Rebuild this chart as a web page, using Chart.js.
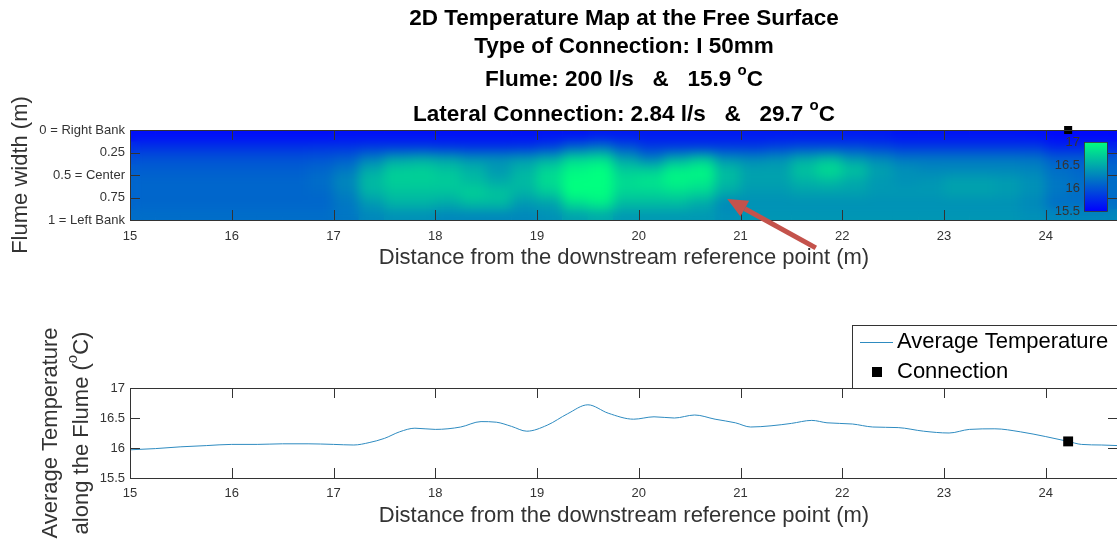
<!DOCTYPE html>
<html>
<head>
<meta charset="utf-8">
<script src="https://cdn.jsdelivr.net/npm/chart.js@4.4.1/dist/chart.umd.min.js"></script>
<style>
  html, body { margin: 0; padding: 0; background: #fff; overflow: hidden; }
  #wrap { position: relative; width: 1117px; height: 542px; overflow: hidden; }
  canvas { position: absolute; left: 0; }
  #mapCanvas { top: 0; }
  #avgCanvas { top: 290px; }
</style>
</head>
<body>
<div id="wrap">
  <canvas id="mapCanvas" width="1130" height="290"></canvas>
  <canvas id="avgCanvas" width="1130" height="252"></canvas>
</div>
<script>
// ---- text ----
const titleLines = [
  ["2D Temperature Map at the Free Surface"],
  ["Type of Connection: I 50mm"],
  ["Flume: 200 l/s   &   15.9 ", "^o", "C"],
  ["Lateral Connection: 2.84 l/s   &   29.7 ", "^o", "C"],
];
const distanceLabel = "Distance from the downstream reference point (m)";
const widthLabel = "Flume width (m)";
const avgLabelLines = [["Average Temperature"], ["along the Flume (", "^o", "C)"]];

// ---- axes ----
const X_MIN = 15, X_MAX = 24.71;
const widthTicks = [0, 0.25, 0.5, 0.75, 1];
const widthTickLabels = ["0 = Right Bank", "0.25", "0.5 = Center", "0.75", "1 = Left Bank"];
const CMIN = 15.5, CMAX = 17;
const colorbarTicks = [15.5, 16, 16.5, 17];

// ---- connection ----
const connectionX = 24.22;
const connectionT = 16.11;

// ---- surface map: cell centres along the flume, bands across it ----
const cellX = [15.125, 15.375, 15.625, 15.875, 16.125, 16.375, 16.625, 16.875,
  17.125, 17.375, 17.625, 17.875, 18.125, 18.375, 18.625, 18.875,
  19.125, 19.375, 19.625, 19.875, 20.125, 20.375, 20.625, 20.875,
  21.125, 21.375, 21.625, 21.875, 22.125, 22.375, 22.625, 22.875,
  23.125, 23.375, 23.625, 23.875, 24.125, 24.375, 24.625, 24.875];
const widthBands = [[0, 0.125], [0.125, 0.25], [0.25, 0.375], [0.375, 0.5],
  [0.5, 0.625], [0.625, 0.75], [0.75, 0.875], [0.875, 1]];

const tempW006 = [15.58, 15.58, 15.58, 15.58, 15.58, 15.58, 15.58, 15.58,
  15.60, 15.60, 15.60, 15.60, 15.60, 15.60, 15.60, 15.60,
  15.62, 15.62, 15.65, 15.65, 15.65, 15.65, 15.65, 15.65,
  15.65, 15.65, 15.65, 15.65, 15.65, 15.65, 15.62, 15.62,
  15.62, 15.62, 15.62, 15.60, 15.55, 15.55, 15.55, 15.55];
const tempW019 = [15.80, 15.80, 15.80, 15.80, 15.80, 15.80, 15.80, 15.82,
  15.82, 15.85, 15.85, 15.85, 15.82, 15.80, 15.80, 15.82,
  15.90, 16.10, 16.20, 16.00, 15.85, 15.85, 15.85, 15.85,
  15.85, 15.90, 15.95, 15.95, 15.95, 15.90, 15.85, 15.85,
  15.85, 15.85, 15.85, 15.85, 15.72, 15.72, 15.72, 15.72];
const tempW031 = [15.98, 15.98, 15.98, 15.98, 15.98, 15.98, 15.98, 16.00,
  16.05, 16.25, 16.45, 16.50, 16.45, 16.35, 16.35, 16.40,
  16.50, 16.75, 16.80, 16.45, 16.25, 16.50, 16.65, 16.35,
  16.30, 16.35, 16.50, 16.60, 16.40, 16.30, 16.20, 16.20,
  16.20, 16.20, 16.20, 16.18, 16.05, 16.05, 16.05, 16.05];
const tempW044 = [16.05, 16.05, 16.05, 16.05, 16.05, 16.05, 16.05, 16.10,
  16.20, 16.50, 16.70, 16.72, 16.65, 16.55, 16.40, 16.55,
  16.75, 16.95, 17.00, 16.70, 16.70, 16.90, 16.95, 16.60,
  16.45, 16.45, 16.65, 16.80, 16.65, 16.45, 16.35, 16.30,
  16.30, 16.30, 16.30, 16.28, 16.15, 16.10, 16.10, 16.10];
const tempW056 = [16.10, 16.10, 16.10, 16.10, 16.10, 16.10, 16.10, 16.15,
  16.30, 16.60, 16.72, 16.72, 16.70, 16.60, 16.50, 16.60,
  16.80, 17.00, 17.00, 16.80, 16.85, 16.95, 16.90, 16.60,
  16.45, 16.45, 16.55, 16.60, 16.50, 16.40, 16.35, 16.38,
  16.45, 16.45, 16.42, 16.35, 16.20, 16.15, 16.15, 16.15];
const tempW069 = [16.10, 16.10, 16.10, 16.10, 16.10, 16.10, 16.10, 16.12,
  16.25, 16.55, 16.65, 16.65, 16.65, 16.72, 16.65, 16.55,
  16.70, 17.00, 17.00, 16.75, 16.75, 16.80, 16.75, 16.50,
  16.40, 16.40, 16.45, 16.45, 16.45, 16.40, 16.40, 16.40,
  16.45, 16.45, 16.42, 16.35, 16.20, 16.15, 16.15, 16.15];
const tempW081 = [16.10, 16.10, 16.10, 16.10, 16.10, 16.10, 16.10, 16.10,
  16.20, 16.40, 16.55, 16.55, 16.50, 16.60, 16.60, 16.40,
  16.45, 16.80, 16.90, 16.60, 16.60, 16.60, 16.50, 16.30,
  16.35, 16.35, 16.35, 16.35, 16.35, 16.35, 16.35, 16.35,
  16.35, 16.35, 16.35, 16.30, 16.15, 16.15, 16.15, 16.15];
const tempW094 = [16.15, 16.15, 16.15, 16.15, 16.15, 16.15, 16.15, 16.15,
  16.20, 16.30, 16.35, 16.35, 16.30, 16.30, 16.30, 16.30,
  16.35, 16.45, 16.50, 16.40, 16.40, 16.40, 16.40, 16.35,
  16.38, 16.38, 16.38, 16.38, 16.38, 16.38, 16.38, 16.38,
  16.38, 16.38, 16.38, 16.35, 16.30, 16.30, 16.30, 16.30];
const tempRows = [tempW006, tempW019, tempW031, tempW044, tempW056, tempW069, tempW081, tempW094];

// ---- average temperature along the flume ----
const avgX = [15.0, 15.25, 15.5, 15.75, 16.0, 16.25, 16.5, 16.75, 17.0, 17.2,
  17.35, 17.5, 17.65, 17.8, 18.0, 18.25, 18.45, 18.6, 18.75, 18.9,
  19.1, 19.3, 19.5, 19.7, 19.95, 20.15, 20.35, 20.55, 20.75, 20.95,
  21.1, 21.3, 21.5, 21.7, 21.85, 22.1, 22.3, 22.55, 22.8, 23.05,
  23.25, 23.5, 23.75, 24.0, 24.22, 24.35, 24.55, 24.71];
const avgT = [15.97, 15.99, 16.02, 16.04, 16.06, 16.06, 16.07, 16.07, 16.06, 16.05,
  16.09, 16.16, 16.27, 16.33, 16.31, 16.35, 16.44, 16.43, 16.36, 16.28,
  16.38, 16.57, 16.72, 16.58, 16.48, 16.52, 16.50, 16.55, 16.48, 16.42,
  16.35, 16.37, 16.41, 16.46, 16.42, 16.40, 16.35, 16.34, 16.28, 16.25,
  16.31, 16.32, 16.27, 16.19, 16.11, 16.06, 16.05, 16.04];

const FONT = '"Liberation Sans", Arial, sans-serif';
const AXIS_COLOR = "#333333";
const LINE_COLOR = "#2e8bc0";

function winterAt(t) {
  t = Math.min(1, Math.max(0, t));
  return "rgb(0," + Math.round(255 * t) + "," + Math.round(255 * (1 - t / 2)) + ")";
}
function winter(temp) {
  return winterAt((temp - CMIN) / (CMAX - CMIN));
}

// text with "^x" segments raised as superscripts
function drawRich(ctx, segs, cx, cy, font, supFont, rise) {
  let total = 0;
  const parts = segs.map((s) => {
    const sup = s.startsWith("^");
    const text = sup ? s.slice(1) : s;
    ctx.font = sup ? supFont : font;
    const w = ctx.measureText(text).width;
    total += w;
    return { text, sup, w };
  });
  let x = cx - total / 2;
  ctx.textAlign = "left";
  ctx.textBaseline = "middle";
  parts.forEach((p) => {
    ctx.font = p.sup ? supFont : font;
    ctx.fillText(p.text, x, p.sup ? cy - rise : cy);
    x += p.w;
  });
}

const boxTicks = {
  id: "boxTicks",
  afterDraw(chart, args, opts) {
    const { ctx, chartArea: a, scales } = chart;
    const len = opts.len || 10;
    ctx.save();
    ctx.strokeStyle = AXIS_COLOR;
    ctx.lineWidth = 1;
    ctx.beginPath();
    scales.x.ticks.forEach((t) => {
      const px = Math.round(scales.x.getPixelForValue(t.value)) + 0.5;
      ctx.moveTo(px, a.bottom); ctx.lineTo(px, a.bottom - len);
      ctx.moveTo(px, a.top); ctx.lineTo(px, a.top + len);
    });
    scales.y.ticks.forEach((t) => {
      const py = Math.round(scales.y.getPixelForValue(t.value)) + 0.5;
      ctx.moveTo(a.left, py); ctx.lineTo(a.left + len, py);
      ctx.moveTo(a.right, py); ctx.lineTo(a.right - len, py);
    });
    ctx.stroke();
    ctx.strokeRect(Math.round(a.left) + 0.5, Math.round(a.top) + 0.5,
      Math.round(a.right - a.left), Math.round(a.bottom - a.top));
    ctx.restore();
  },
};

// soften the cell edges like an interpolated surface plot
const smoothCells = {
  id: "smoothCells",
  beforeDatasetDraw(chart, args, opts) {
    if (args.index !== 0) return;
    const { ctx, chartArea: a } = chart;
    const r = chart.currentDevicePixelRatio || 1;
    const x = Math.round(a.left * r), y = Math.round(a.top * r);
    const w = Math.round(a.right * r) - x, h = Math.round(a.bottom * r) - y;
    const off = document.createElement("canvas");
    off.width = w; off.height = h;
    off.getContext("2d").putImageData(ctx.getImageData(x, y, w, h), 0, 0);
    ctx.save();
    ctx.setTransform(1, 0, 0, 1, 0, 0);
    ctx.beginPath();
    ctx.rect(x, y, w, h);
    ctx.clip();
    ctx.filter = "blur(" + (opts.radius || 5) * r + "px)";
    ctx.drawImage(off, x, y);
    ctx.restore();
  },
};

const colorbar = {
  id: "colorbar",
  afterDraw(chart, args, o) {
    const { ctx } = chart;
    const g = ctx.createLinearGradient(0, o.bottom, 0, o.top);
    for (let k = 0; k <= 10; k++) g.addColorStop(k / 10, winterAt(k / 10));
    ctx.save();
    ctx.fillStyle = g;
    ctx.fillRect(o.left, o.top, o.width, o.bottom - o.top);
    ctx.strokeStyle = AXIS_COLOR;
    ctx.lineWidth = 0.8;
    ctx.strokeRect(o.left + 0.5, o.top + 0.5, o.width, o.bottom - o.top);
    ctx.fillStyle = AXIS_COLOR;
    ctx.font = "13px " + FONT;
    ctx.textAlign = "right";
    ctx.textBaseline = "middle";
    colorbarTicks.forEach((v) => {
      const py = o.bottom - ((v - CMIN) / (CMAX - CMIN)) * (o.bottom - o.top);
      ctx.fillText(String(v), o.left - 4, py);
    });
    ctx.restore();
  },
};

const arrow = {
  id: "arrow",
  afterDraw(chart, args, o) {
    const { ctx } = chart;
    const { x, y } = chart.scales;
    const x0 = x.getPixelForValue(o.from[0]), y0 = y.getPixelForValue(o.from[1]);
    const x1 = x.getPixelForValue(o.to[0]), y1 = y.getPixelForValue(o.to[1]);
    const ang = Math.atan2(y1 - y0, x1 - x0);
    const hl = 20, hw = 9;
    const bx = x1 - hl * Math.cos(ang), by = y1 - hl * Math.sin(ang);
    ctx.save();
    ctx.strokeStyle = o.color;
    ctx.fillStyle = o.color;
    ctx.lineWidth = 5;
    ctx.beginPath();
    ctx.moveTo(x0, y0);
    ctx.lineTo(bx, by);
    ctx.stroke();
    ctx.beginPath();
    ctx.moveTo(x1, y1);
    ctx.lineTo(bx + hw * Math.sin(ang), by - hw * Math.cos(ang));
    ctx.lineTo(bx - hw * Math.sin(ang), by + hw * Math.cos(ang));
    ctx.closePath();
    ctx.fill();
    ctx.restore();
  },
};

const mainTitle = {
  id: "mainTitle",
  afterDraw(chart, args, o) {
    const { ctx } = chart;
    ctx.save();
    ctx.fillStyle = "#000";
    titleLines.forEach((segs, i) => {
      drawRich(ctx, segs, o.x, o.ys[i], "bold 22.5px " + FONT, "bold 15px " + FONT, 9);
    });
    ctx.restore();
  },
};

const avgTitle = {
  id: "avgTitle",
  afterDraw(chart, args, o) {
    const { ctx, chartArea: a } = chart;
    const cy = (a.top + a.bottom) / 2;
    ctx.save();
    ctx.fillStyle = AXIS_COLOR;
    avgLabelLines.forEach((segs, i) => {
      ctx.save();
      ctx.translate(o.xs[i], cy);
      ctx.rotate(-Math.PI / 2);
      drawRich(ctx, segs, 0, 0, "22px " + FONT, "15px " + FONT, 9);
      ctx.restore();
    });
    ctx.restore();
  },
};

const boxLegend = {
  id: "boxLegend",
  afterDraw(chart, args, o) {
    const { ctx } = chart;
    const sets = chart.data.datasets;
    ctx.save();
    ctx.fillStyle = "#fff";
    ctx.fillRect(o.left, o.top, 400, o.height);
    ctx.strokeStyle = AXIS_COLOR;
    ctx.lineWidth = 1;
    ctx.strokeRect(o.left + 0.5, o.top + 0.5, 400, o.height);
    ctx.font = "22px " + FONT;
    ctx.textAlign = "left";
    ctx.textBaseline = "middle";
    o.order.forEach((idx, row) => {
      const ds = sets[idx];
      const cy = o.top + o.firstRow + row * o.rowGap;
      if (ds.showLine === false) {
        ctx.fillStyle = ds.backgroundColor;
        ctx.fillRect(o.left + 20, cy - 5, 10, 10);
      } else {
        ctx.strokeStyle = ds.borderColor;
        ctx.lineWidth = ds.borderWidth;
        ctx.beginPath();
        ctx.moveTo(o.left + 8, cy + 0.5);
        ctx.lineTo(o.left + 41, cy + 0.5);
        ctx.stroke();
      }
      ctx.fillStyle = "#000";
      ctx.fillText(ds.label, o.left + 45, cy);
    });
    ctx.restore();
  },
};

function tickFont() {
  return { family: FONT, size: 13 };
}

// ---------------- surface map ----------------
const mapSets = [{
  type: "scatter",
  label: "Connection",
  data: [{ x: connectionX, y: 0 }],
  pointStyle: "rect",
  pointRadius: 5.7,
  backgroundColor: "#000",
  borderColor: "#000",
  borderWidth: 0,
  clip: false,
}];
tempRows.forEach((row, r) => {
  mapSets.push({
    type: "bar",
    data: cellX.map((x) => ({ x, y: widthBands[r] })),
    backgroundColor: row.map(winter),
    borderWidth: 0,
    grouped: false,
    barPercentage: 1,
    categoryPercentage: 1,
  });
});

new Chart(document.getElementById("mapCanvas").getContext("2d"), {
  type: "bar",
  data: { datasets: mapSets },
  plugins: [smoothCells, boxTicks, colorbar, arrow, mainTitle],
  options: {
    responsive: false,
    animation: false,
    events: [],
    layout: { padding: { top: 130, right: 12, bottom: 0, left: 0 } },
    plugins: {
      legend: { display: false },
      tooltip: { enabled: false },
      smoothCells: { radius: 6 },
      boxTicks: { len: 10 },
      colorbar: { left: 1084, top: 142, width: 23, bottom: 211 },
      arrow: { from: [21.74, 1.31], to: [20.87, 0.767], color: "#c4524b" },
      mainTitle: { x: 624, ys: [19, 47, 80, 115] },
    },
    scales: {
      x: {
        type: "linear",
        min: X_MIN,
        max: X_MAX,
        offset: false,
        grid: { display: false, drawTicks: false },
        border: { display: false },
        ticks: { stepSize: 1, includeBounds: false, autoSkip: false, maxRotation: 0,
          padding: 9, color: AXIS_COLOR, font: tickFont() },
        title: { display: true, text: distanceLabel, color: AXIS_COLOR,
          font: { family: FONT, size: 22 }, padding: { top: 0, bottom: 19 } },
        afterFit(scale) { scale.height = 70; },
      },
      y: {
        type: "linear",
        min: 0,
        max: 1,
        reverse: true,
        grid: { display: false, drawTicks: false },
        border: { display: false },
        ticks: { stepSize: 0.25, autoSkip: false, padding: 5, color: AXIS_COLOR, font: tickFont(),
          callback: (v) => widthTickLabels[widthTicks.indexOf(v)] ?? "" },
        title: { display: true, text: widthLabel, color: AXIS_COLOR,
          font: { family: FONT, size: 22 }, padding: { top: 8, bottom: 0 } },
        afterFit(scale) { scale.width = 130; },
      },
    },
  },
});

// ---------------- average temperature ----------------
new Chart(document.getElementById("avgCanvas").getContext("2d"), {
  type: "line",
  data: {
    datasets: [
      {
        type: "scatter",
        label: "Connection",
        data: [{ x: connectionX, y: connectionT }],
        showLine: false,
        pointStyle: "rect",
        pointRadius: 7,
        backgroundColor: "#000",
        borderColor: "#000",
        borderWidth: 0,
      },
      {
        label: "Average Temperature",
        data: avgX.map((x, i) => ({ x, y: avgT[i] })),
        borderColor: LINE_COLOR,
        borderWidth: 1,
        pointRadius: 0,
        cubicInterpolationMode: "monotone",
        fill: false,
      },
    ],
  },
  plugins: [boxTicks, avgTitle, boxLegend],
  options: {
    responsive: false,
    animation: false,
    events: [],
    layout: { padding: { top: 98, right: 12, bottom: 0, left: 0 } },
    plugins: {
      legend: { display: false },
      tooltip: { enabled: false },
      boxTicks: { len: 10 },
      avgTitle: { xs: [51, 82] },
      boxLegend: { left: 852, top: 35, height: 63, firstRow: 17, rowGap: 30, order: [1, 0] },
    },
    scales: {
      x: {
        type: "linear",
        min: X_MIN,
        max: X_MAX,
        grid: { display: false, drawTicks: false },
        border: { display: false },
        ticks: { stepSize: 1, includeBounds: false, autoSkip: false, maxRotation: 0,
          padding: 8, color: AXIS_COLOR, font: tickFont() },
        title: { display: true, text: distanceLabel, color: AXIS_COLOR,
          font: { family: FONT, size: 22 }, padding: { top: 0, bottom: 13 } },
        afterFit(scale) { scale.height = 64; },
      },
      y: {
        type: "linear",
        min: CMIN,
        max: CMAX,
        grid: { display: false, drawTicks: false },
        border: { display: false },
        ticks: { stepSize: 0.5, autoSkip: false, padding: 5, color: AXIS_COLOR, font: tickFont(),
          callback: (v) => String(v) },
        afterFit(scale) { scale.width = 130; },
      },
    },
  },
});
</script>
</body>
</html>
